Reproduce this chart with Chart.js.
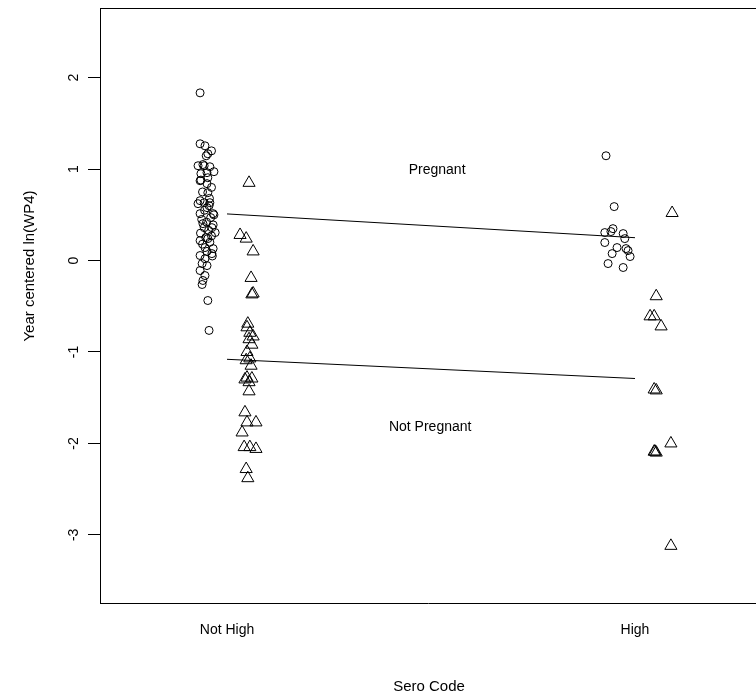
<!DOCTYPE html>
<html>
<head>
<meta charset="utf-8">
<script src="https://cdn.jsdelivr.net/npm/chart.js@4/dist/chart.umd.min.js"></script>
<style>
html,body{margin:0;padding:0;background:#fff;overflow:hidden;}
canvas{display:block;}
</style>
</head>
<body>
<canvas id="c" width="756" height="698" style="width:756px;height:698px"></canvas>
<script>
// Categories (x positions 1 and 2)
const categories = ["Not High", "High"];
const yTicks = [-3, -2, -1, 0, 1, 2];

// Pregnant, Not High (circles): [x (jittered), y]
const pregNotHigh = [
 [0.934,1.834],[0.934,1.277],[0.946,1.255],[0.953,1.168],[0.949,1.146],[0.962,1.20],
 [0.929,1.037],[0.944,1.037],[0.958,1.026],[0.941,1.05],[0.968,0.972],[0.936,0.950],
 [0.951,0.961],[0.934,0.873],[0.953,0.906],[0.936,0.88],[0.951,0.841],[0.962,0.80],
 [0.940,0.75],[0.953,0.742],[0.957,0.68],[0.934,0.655],[0.944,0.633],[0.958,0.633],
 [0.929,0.622],[0.956,0.60],[0.951,0.579],[0.945,0.55],[0.934,0.513],[0.966,0.513],
 [0.968,0.50],[0.960,0.47],[0.938,0.45],[0.950,0.42],[0.941,0.404],[0.966,0.39],
 [0.963,0.360],[0.944,0.36],[0.955,0.33],[0.971,0.306],[0.935,0.30],[0.962,0.27],
 [0.948,0.25],[0.953,0.240],[0.934,0.218],[0.958,0.20],[0.940,0.18],[0.946,0.142],
 [0.966,0.131],[0.951,0.10],[0.963,0.076],[0.934,0.055],[0.964,0.05],[0.946,0.02],
 [0.939,-0.033],[0.951,-0.055],[0.934,-0.109],[0.946,-0.164],[0.941,-0.218],
 [0.939,-0.262],[0.953,-0.437],[0.956,-0.764]
];
// Not Pregnant, Not High (triangles)
const notPregNotHigh = [
 [1.054,0.85],[1.032,0.28],[1.047,0.24],[1.064,0.10],[1.059,-0.19],[1.064,-0.36],
 [1.061,-0.37],[1.051,-0.69],[1.049,-0.73],[1.056,-0.79],[1.064,-0.83],[1.054,-0.86],
 [1.061,-0.92],[1.049,-1.00],[1.056,-1.07],[1.047,-1.09],[1.059,-1.15],[1.049,-1.28],
 [1.061,-1.29],[1.044,-1.30],[1.054,-1.33],[1.054,-1.43],[1.044,-1.66],[1.049,-1.77],
 [1.071,-1.77],[1.037,-1.88],[1.042,-2.04],[1.056,-2.04],[1.071,-2.06],[1.047,-2.28],
 [1.051,-2.38]
];
// Pregnant, High (circles)
const pregHigh = [
 [1.929,1.146],[1.949,0.590],[1.926,0.306],[1.946,0.349],[1.941,0.317],[1.971,0.295],
 [1.975,0.240],[1.926,0.197],[1.956,0.142],[1.978,0.131],[1.983,0.109],[1.944,0.076],
 [1.988,0.044],[1.934,-0.033],[1.971,-0.076]
];
// Not Pregnant, High (triangles)
const notPregHigh = [
 [2.091,0.52],[2.052,-0.39],[2.037,-0.61],[2.047,-0.61],[2.064,-0.72],[2.047,-1.41],
 [2.052,-1.42],[2.047,-2.09],[2.052,-2.10],[2.049,-2.09],[2.088,-2.00],[2.088,-3.12]
];
// Fitted lines (value at Not High, value at High)
const pregLine = [0.51, 0.25];
const notPregLine = [-1.08, -1.29];
// Text labels [x, y, text]
const annotations = [[1.515, 0.99, "Pregnant"], [1.498, -1.825, "Not Pregnant"]];

const toPts = a => a.map(p => ({x: p[0], y: p[1]}));
const FONT = "'Liberation Sans', Arial, sans-serif";

const circleDs = d => ({data: toPts(d), pointStyle: 'circle', pointRadius: 4, borderWidth: 1,
  borderColor: '#000', backgroundColor: 'rgba(0,0,0,0)', showLine: false});
const triDs = d => ({data: toPts(d), pointStyle: 'triangle', pointRadius: 7, borderWidth: 1,
  borderColor: '#000', backgroundColor: 'rgba(0,0,0,0)', showLine: false});
const lineDs = v => ({data: [{x: 1, y: v[0]}, {x: 2, y: v[1]}], showLine: true, pointRadius: 0,
  borderColor: '#000', borderWidth: 1, fill: false});

const overlay = {
  id: 'overlay',
  afterLayout(chart) {
    // plot region runs to the right edge of the picture
    chart.chartArea.right = chart.width;
    const xs = chart.scales.x;
    xs.right = chart.width; xs.width = xs.right - xs.left;
    xs.configure();
  },
  afterDraw(chart) {
    const ctx = chart.ctx, ca = chart.chartArea, ys = chart.scales.y, xs = chart.scales.x;
    ctx.save();
    ctx.strokeStyle = '#000'; ctx.lineWidth = 1;
    ctx.beginPath(); ctx.moveTo(ca.left, Math.round(ca.top) + 0.5); ctx.lineTo(ca.right, Math.round(ca.top) + 0.5); ctx.stroke();
    ctx.fillStyle = '#000';
    ctx.font = "14px " + FONT;
    ctx.textAlign = 'center'; ctx.textBaseline = 'middle';
    yTicks.forEach(v => {
      const py = ys.getPixelForValue(v);
      ctx.save(); ctx.translate(74, py); ctx.rotate(-Math.PI / 2);
      ctx.fillText(String(v), 0, 0); ctx.restore();
    });
    ctx.font = "15px " + FONT;
    ctx.save(); ctx.translate(30, 266); ctx.rotate(-Math.PI / 2);
    ctx.fillText("Year centered ln(WP4)", 0, 0); ctx.restore();
    ctx.fillText("Sero Code", 429, 687);
    ctx.font = "14px " + FONT;
    annotations.forEach(a => {
      ctx.fillText(a[2], xs.getPixelForValue(a[0]), ys.getPixelForValue(a[1]));
    });
    ctx.restore();
  }
};

new Chart(document.getElementById('c'), {
  type: 'scatter',
  data: {datasets: [
    circleDs(pregNotHigh), triDs(notPregNotHigh), circleDs(pregHigh), triDs(notPregHigh),
    lineDs(pregLine), lineDs(notPregLine)
  ]},
  options: {
    responsive: false, maintainAspectRatio: false, animation: false, devicePixelRatio: 1,
    layout: {padding: {top: 7, right: 0, left: 0, bottom: 0}},
    plugins: {legend: {display: false}, tooltip: {enabled: false}},
    scales: {
      x: {
        type: 'linear', position: 'bottom', min: 0.6887, max: 2.2966,
        grid: {display: false, drawTicks: false},
        border: {display: true, color: '#000', width: 1},
        afterBuildTicks: ax => { ax.ticks = [{value: 1}, {value: 2}]; },
        afterFit: ax => { ax.height = 95; ax.paddingLeft = 0; ax.paddingRight = 0; },
        ticks: {color: '#000', font: {size: 14, family: FONT}, padding: 19, maxRotation: 0, autoSkip: false,
          callback: v => categories[Math.round(v) - 1] || ''}
      },
      y: {
        type: 'linear', min: -3.745, max: 2.762,
        grid: {display: true, drawOnChartArea: false, drawTicks: true, tickLength: 12, color: '#000'},
        border: {display: true, color: '#000', width: 1},
        afterBuildTicks: ax => { ax.ticks = yTicks.map(v => ({value: v})); },
        afterFit: ax => { ax.width = 100; ax.paddingTop = 0; ax.paddingBottom = 0; },
        ticks: {display: false}
      }
    }
  },
  plugins: [overlay]
});
</script>
</body>
</html>
